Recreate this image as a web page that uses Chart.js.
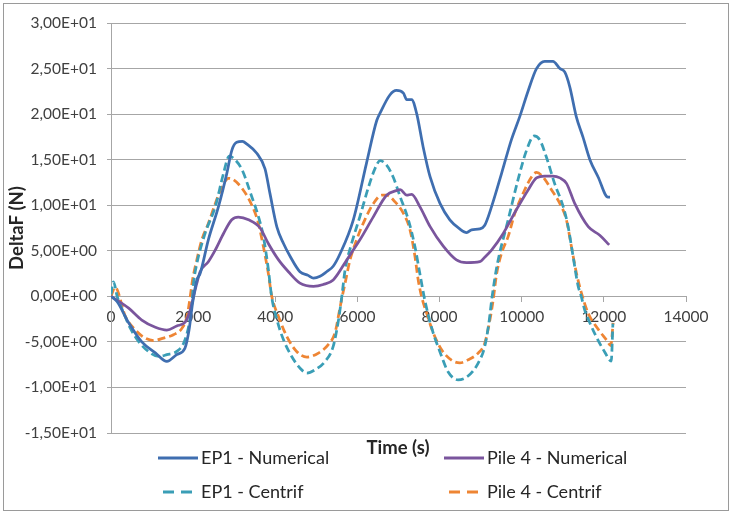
<!DOCTYPE html>
<html>
<head>
<meta charset="utf-8">
<script src="https://cdn.jsdelivr.net/npm/chart.js@4.4.1/dist/chart.umd.min.js"></script>
<style>
  html, body { margin: 0; padding: 0; background: #fff; }
  #frame { position: absolute; left: 3px; top: 3px; width: 724px; height: 506px; border: 1px solid #9a9a9a; }
  #chart { position: absolute; left: 0; top: 0; }
</style>
</head>
<body>
<div id="frame"></div>
<canvas id="chart" width="730" height="514"></canvas>
<script>
// EP1 - Numerical
const ep1NumT = [0, 150, 430, 750, 1080, 1360, 1600, 1800, 1900, 1985, 2090, 2170, 2370, 2620, 2820, 2940, 3060, 3200, 3310, 3550, 3750, 3870, 4040, 4200, 4360, 4600, 4800, 4930, 5090, 5250, 5410, 5580, 5900, 6220, 6470, 6550, 6790, 6950, 7120, 7200, 7320, 7440, 7600, 7770, 8010, 8250, 8490, 8660, 8780, 8980, 9100, 9270, 9510, 9750, 9950, 10160, 10360, 10560, 10760, 10930, 11050, 11170, 11330, 11490, 11660, 11860, 12100, 12150];
const ep1NumV = [0, -0.6, -2.9, -5.0, -6.2, -7.15, -6.4, -5.7, -3.7, -0.8, 1.8, 2.5, 6.2, 9.9, 13.5, 16.0, 16.9, 17.0, 16.7, 15.7, 14.0, 11.3, 7.6, 5.8, 4.4, 2.7, 2.3, 2.0, 2.2, 2.7, 3.3, 4.7, 8.4, 14.6, 19.3, 20.1, 22.1, 22.6, 22.3, 21.6, 21.6, 20.1, 16.4, 13.1, 10.2, 8.4, 7.4, 7.0, 7.3, 7.4, 7.8, 9.9, 13.5, 17.2, 19.7, 22.6, 25.0, 25.8, 25.8, 25.0, 24.6, 23.0, 19.7, 17.5, 15.0, 13.1, 10.9, 10.9];

// Pile 4 - Numerical
const pileNumT = [0, 430, 750, 1080, 1360, 1600, 1810, 1930, 2010, 2090, 2170, 2370, 2540, 2740, 2940, 3100, 3350, 3630, 3830, 4080, 4320, 4600, 4930, 5170, 5410, 5740, 6060, 6390, 6710, 6950, 7040, 7200, 7320, 7520, 7770, 8090, 8410, 8660, 8980, 9100, 9270, 9550, 9870, 10160, 10360, 10560, 10760, 10930, 11090, 11290, 11620, 11900, 12130];
const pileNumV = [0, -1.3, -2.6, -3.4, -3.7, -3.25, -2.8, -1.5, 0, 1.45, 2.7, 3.8, 5.1, 6.9, 8.4, 8.7, 8.4, 7.5, 5.8, 4.0, 2.7, 1.45, 1.1, 1.3, 1.8, 4.0, 6.2, 8.75, 11.1, 11.6, 11.7, 11.1, 11.2, 9.85, 7.65, 5.5, 4.0, 3.7, 3.8, 4.3, 5.1, 6.9, 9.5, 11.7, 13.0, 13.2, 13.2, 13.0, 12.4, 10.2, 7.65, 6.7, 5.65];

// EP1 - Centrif
const ep1CenT = [0, 60, 150, 310, 470, 670, 910, 1160, 1360, 1600, 1770, 1890, 1970, 2010, 2090, 2290, 2540, 2740, 2880, 3020, 3190, 3430, 3590, 3710, 3830, 3910, 4040, 4200, 4400, 4600, 4770, 4970, 5210, 5410, 5540, 5620, 5700, 5860, 6060, 6270, 6430, 6550, 6710, 6870, 7040, 7240, 7400, 7520, 7640, 7810, 8010, 8210, 8450, 8700, 8940, 9100, 9200, 9280, 9400, 9670, 9910, 10120, 10300, 10440, 10600, 10800, 11010, 11130, 11250, 11370, 11450, 11540, 11620, 11800, 12020, 12180, 12220];
const ep1CenV = [0.2, 1.6, 0, -1.85, -3.5, -4.95, -6.05, -6.6, -6.4, -6.05, -5.13, -3.3, -0.75, 1.45, 3.6, 6.9, 9.85, 13.5, 15.4, 15.0, 13.9, 10.9, 8.75, 6.56, 3.0, 0, -2.58, -4.77, -6.6, -7.87, -8.42, -8.06, -7.15, -5.5, -2.58, 0, 2.9, 5.83, 8.75, 12.0, 14.05, 14.9, 14.4, 13.1, 10.94, 8.4, 5.46, 2.5, -0.4, -3.5, -6.1, -8.3, -9.16, -8.72, -7.33, -5.5, -2.94, 0, 3.4, 8.4, 12.8, 16.06, 17.6, 17.16, 15.3, 12.4, 9.85, 7.65, 4.4, 1.2, 0, -1.6, -2.5, -4.3, -6.1, -7.1, -3.0];

// Pile 4 - Centrif
const pileCenT = [0, 100, 350, 590, 830, 1040, 1280, 1520, 1730, 1850, 1930, 1985, 2090, 2210, 2370, 2540, 2700, 2860, 2980, 3190, 3430, 3590, 3710, 3830, 3914, 4077, 4280, 4520, 4770, 5050, 5290, 5455, 5536, 5630, 5700, 5820, 5980, 6180, 6390, 6590, 6710, 6910, 7120, 7280, 7400, 7480, 7560, 7685, 7846, 8050, 8290, 8494, 8700, 8940, 9100, 9225, 9305, 9387, 9509, 9669, 9832, 10034, 10238, 10360, 10520, 10724, 10927, 11088, 11210, 11333, 11455, 11617, 11860, 12063, 12170, 12225];
const pileCenV = [0, 1.0, -2.2, -3.67, -4.58, -4.85, -4.58, -4.22, -3.49, -2.2, 0, 1.8, 4.0, 6.2, 8.0, 10.2, 12.0, 12.96, 12.8, 11.86, 10.0, 8.0, 5.46, 2.54, 0, -2.2, -4.4, -6.05, -6.67, -6.23, -5.3, -4.0, -2.2, 0, 1.45, 4.0, 6.2, 8.4, 10.2, 11.1, 11.1, 10.4, 9.1, 7.3, 4.4, 1.8, 0, -1.85, -4.0, -5.87, -7.0, -7.3, -6.96, -6.23, -5.13, -2.6, -0.4, 2.4, 4.74, 6.56, 9.1, 11.3, 13.1, 13.6, 13.1, 11.7, 10.2, 8.4, 5.46, 2.54, 0.35, -1.85, -3.6, -4.77, -5.4, -2.9];

const seriesNames = ["EP1 - Numerical", "Pile 4 - Numerical", "EP1 - Centrif", "Pile 4 - Centrif"];
const xTicks = [0, 2000, 4000, 6000, 8000, 10000, 12000, 14000];
const yTicks = [-15, -10, -5, 0, 5, 10, 15, 20, 25, 30];
const xTitle = "Time (s)";
const yTitle = "DeltaF (N)";

const FONT = "Lato, 'Open Sans', sans-serif";
const GRID = "#a6a6a6";

function pts(t, v){
  return t.map((x, i) => ({ x: x, y: v[i] }));
}

// 3,00E+01 style labels
function sci(v){
  if (v === 0) return "0,00E+00";
  const e = Math.floor(Math.log10(Math.abs(v)));
  const m = v / Math.pow(10, e);
  return m.toFixed(2).replace(".", ",") + "E" + (e < 0 ? "-" : "+") + String(Math.abs(e)).padStart(2, "0");
}

function line(label, data, color, dash){
  return {
    label, data,
    borderColor: color,
    backgroundColor: color,
    borderWidth: 2.75,
    borderDash: dash || [],
    pointRadius: 0,
    fill: false,
    tension: 0.35,
    cubicInterpolationMode: "monotone",
  };
}

// 2x2 legend with the x title between the columns, like the Excel original
const legendSlots = [
  { x: 158, y: 458 },
  { x: 444, y: 458 },
  { x: 158, y: 492 },
  { x: 444, y: 492 },
];

const bottomStuff = {
  id: "bottomStuff",
  afterDraw(chart){
    const ctx = chart.ctx;
    ctx.save();
    ctx.fillStyle = "#262626";
    ctx.font = "bold 18.5px " + FONT;
    ctx.textAlign = "center";
    ctx.textBaseline = "middle";
    ctx.fillText(xTitle, 398, 448);

    ctx.font = "18px " + FONT;
    ctx.textAlign = "left";
    chart.data.datasets.forEach((ds, i) => {
      const s = legendSlots[i];
      ctx.strokeStyle = ds.borderColor;
      ctx.lineWidth = 3;
      if (ds.borderDash.length){
        ctx.setLineDash([11, 7]);
        ctx.beginPath(); ctx.moveTo(s.x + 5, s.y); ctx.lineTo(s.x + 40, s.y); ctx.stroke();
      } else {
        ctx.setLineDash([]);
        ctx.beginPath(); ctx.moveTo(s.x, s.y); ctx.lineTo(s.x + 40, s.y); ctx.stroke();
      }
      ctx.fillStyle = "#262626";
      ctx.fillText(ds.label, s.x + 43, s.y);
    });
    ctx.restore();
  }
};

const ctx = document.getElementById("chart").getContext("2d");
new Chart(ctx, {
  type: "line",
  data: {
    datasets: [
      line(seriesNames[0], pts(ep1NumT, ep1NumV), "#3f6eb0"),
      line(seriesNames[1], pts(pileNumT, pileNumV), "#7a559d"),
      line(seriesNames[2], pts(ep1CenT, ep1CenV), "#3a9eb6", [8, 4]),
      line(seriesNames[3], pts(pileCenT, pileCenV), "#ee8534", [8, 4]),
    ]
  },
  options: {
    responsive: false,
    animation: false,
    layout: { padding: { left: 3, top: 23, right: 44, bottom: 81 } },
    plugins: { legend: { display: false }, tooltip: { enabled: false } },
    scales: {
      x: {
        type: "linear",
        position: { y: 0 },
        min: 0, max: 14000,
        afterBuildTicks: s => { s.ticks = xTicks.map(v => ({ value: v })); },
        ticks: { color: "#404040", font: { family: FONT, size: 15.5 }, padding: 6, maxRotation: 0, callback: v => String(v) },
        grid: { drawOnChartArea: false, drawTicks: true, tickLength: 5, color: GRID },
        border: { display: true, color: GRID, width: 1 },
      },
      y: {
        min: -15, max: 30,
        afterBuildTicks: s => { s.ticks = yTicks.map(v => ({ value: v })); },
        afterFit: s => { s.width = 108; },
        ticks: { color: "#404040", font: { family: FONT, size: 15.5 }, padding: 10, callback: v => sci(v) },
        grid: { color: GRID, tickLength: 4, lineWidth: 1 },
        border: { display: true, color: GRID, width: 1 },
        title: { display: true, text: yTitle, color: "#262626", font: { family: FONT, size: 18.5, weight: "bold" }, padding: { top: 3, bottom: 0 } },
      }
    }
  },
  plugins: [bottomStuff]
});
</script>
</body>
</html>
